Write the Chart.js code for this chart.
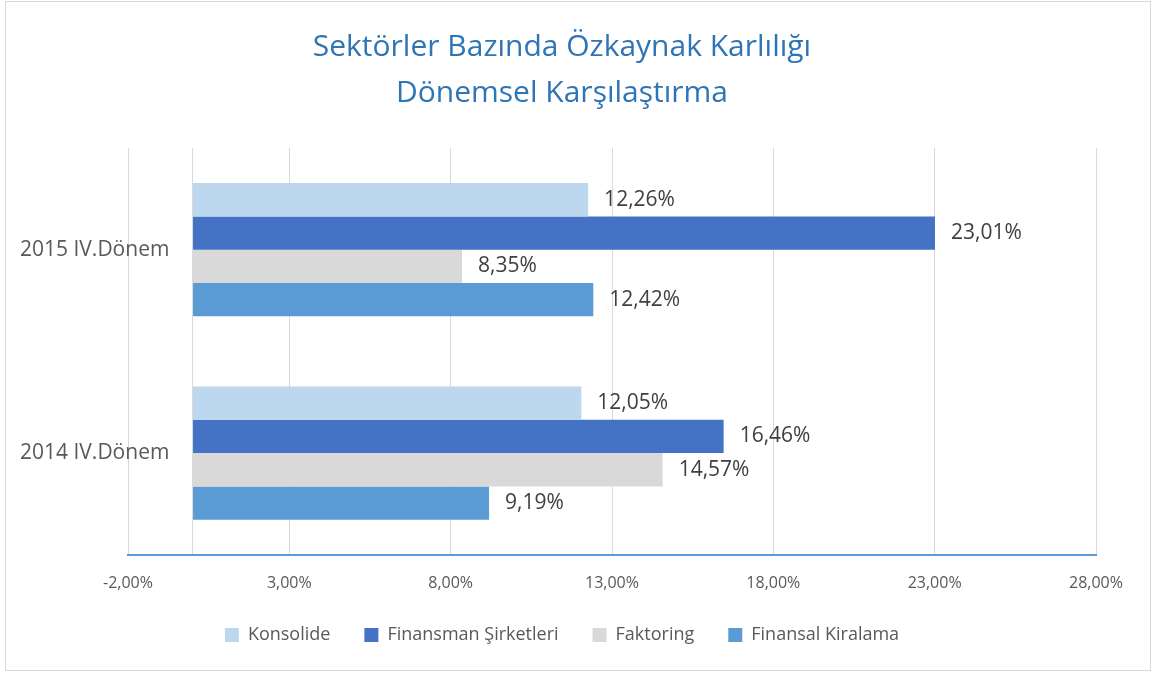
<!DOCTYPE html>
<html>
<head>
<meta charset="utf-8">
<script src="https://cdn.jsdelivr.net/npm/chart.js@4"></script>
<style>
  html, body { margin: 0; padding: 0; background: #fff; }
  #wrap {
    position: absolute;
    left: 5px;
    top: 1px;
    width: 1146px;
    height: 670px;
    box-sizing: border-box;
    border: 1px solid #d9d9d9;
  }
</style>
</head>
<body>
<div id="wrap"><canvas id="chart"></canvas></div>
<script>
const periods = ["2015 IV.Dönem", "2014 IV.Dönem"];
const konsolide = [12.26, 12.05];
const finansman = [23.01, 16.46];
const faktoring = [8.35, 14.57];
const finansalKiralama = [12.42, 9.19];
const xTicks = [-2, 3, 8, 13, 18, 23, 28];

const fmt = v => v.toFixed(2).replace(".", ",") + "%";

// value labels next to the end of each bar
const barLabels = {
  id: "barLabels",
  afterDatasetsDraw(chart) {
    const ctx = chart.ctx;
    ctx.save();
    ctx.font = "21px 'Open Sans'";
    ctx.fillStyle = "#404040";
    ctx.textAlign = "left";
    ctx.textBaseline = "middle";
    chart.data.datasets.forEach((ds, i) => {
      chart.getDatasetMeta(i).data.forEach((bar, j) => {
        ctx.fillText(fmt(ds.data[j]), bar.x + 16, bar.y);
      });
    });
    ctx.restore();
  }
};

// pull the legend a bit closer to the axis labels
const legendShift = {
  id: "legendShift",
  afterLayout(chart) {
    if (!chart.legend) return;
    chart.legend.top -= 20;
    chart.legend.bottom -= 20;
  }
};

new Chart(document.getElementById("chart"), {
  type: "bar",
  data: {
    labels: periods,
    datasets: [
      { label: "Konsolide", data: konsolide, backgroundColor: "#bdd7ee" },
      { label: "Finansman Şirketleri", data: finansman, backgroundColor: "#4472c4" },
      { label: "Faktoring", data: faktoring, backgroundColor: "#d9d9d9" },
      { label: "Finansal Kiralama", data: finansalKiralama, backgroundColor: "#5b9bd5" }
    ]
  },
  options: {
    indexAxis: "y",
    responsive: true,
    maintainAspectRatio: false,
    animation: false,
    categoryPercentage: 0.655,
    barPercentage: 1,
    layout: {
      padding: { left: 22, right: 54, top: 0, bottom: -4 }
    },
    scales: {
      x: {
        min: -2,
        max: 28,
        afterBuildTicks: scale => {
          // zero gets a grid line (the vertical axis) but no label
          scale.ticks = [...xTicks, 0].sort((a, b) => a - b).map(v => ({ value: v }));
        },
        grid: {
          color: "#d9d9d9",
          lineWidth: 1,
          drawTicks: false
        },
        border: { color: "#5b9bd5", width: 2 },
        ticks: {
          color: "#595959",
          font: { family: "Open Sans", size: 16 },
          padding: 19,
          maxRotation: 0,
          autoSkip: false,
          callback: v => (xTicks.includes(v) ? fmt(v) : "")
        }
      },
      y: {
        position: "left",
        afterFit: scale => {
          scale.width = 100;
        },
        grid: { display: false },
        border: { display: false },
        ticks: {
          color: "#595959",
          font: { family: "Open Sans", size: 21 },
          mirror: true,
          padding: -108
        }
      }
    },
    plugins: {
      title: {
        display: true,
        text: ["Sektörler Bazında Özkaynak Karlılığı", "Dönemsel Karşılaştırma"],
        color: "#2e75b6",
        font: { family: "Open Sans", size: 30, weight: "normal", lineHeight: 1.533 },
        padding: { top: 22, bottom: 32 }
      },
      legend: {
        position: "bottom",
        labels: {
          boxWidth: 14,
          boxHeight: 14,
          padding: 34,
          color: "#595959",
          font: { family: "Open Sans", size: 18 }
        }
      },
      tooltip: { enabled: false }
    }
  },
  plugins: [barLabels, legendShift]
});
</script>
</body>
</html>
